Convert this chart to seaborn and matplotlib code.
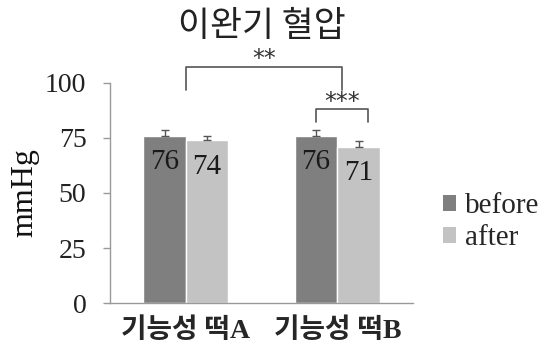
import matplotlib
matplotlib.use("Agg")
import matplotlib.pyplot as plt
import seaborn as sns
import pandas as pd
from matplotlib.patches import Patch

# Diastolic blood pressure before/after for two functional rice cakes
products = ["기능성 떡A", "기능성 떡B"]
phases = ["before", "after"]
before_vals = [76, 76]
after_vals = [74, 71]
before_err = [2.5, 2.5]
after_err = [2.0, 2.5]
yticks = [0, 25, 50, 75, 100]

colors = {"before": "#7f7f7f", "after": "#c3c3c3"}
serif = ["Liberation Serif", "DejaVu Serif"]
kor = ["Noto Sans CJK KR", "DejaVu Sans"]

df = pd.DataFrame({
    "product": products * 2,
    "phase": ["before"] * 2 + ["after"] * 2,
    "value": before_vals + after_vals,
    "err": before_err + after_err,
})

sns.set_theme(style="white")
plt.rcParams["font.family"] = serif

fig = plt.figure(figsize=(5.54, 3.53), dpi=100)
ax = fig.add_axes([0.1986, 0.1416, 0.547, 0.6234])

sns.barplot(data=df, x="product", y="value", hue="phase", order=products,
            hue_order=phases, palette=colors, width=0.56, errorbar=None,
            saturation=1, ax=ax, legend=False)

# error bars and value labels from each bar
centers = {}
for bars, ph in zip(ax.containers, phases):
    sub = df[df["phase"] == ph].set_index("product").loc[products]
    for rect, (_, row), prod in zip(bars, sub.iterrows(), products):
        cx = rect.get_x() + rect.get_width() / 2
        centers[(prod, ph)] = cx
        ax.errorbar(cx, row["value"], yerr=[[0], [row["err"]]], fmt="none",
                    ecolor="#555555", elinewidth=1, capsize=3, capthick=1)
        ax.text(cx, row["value"] - 12, f"{row['value']:g}", ha="center",
                va="center", fontsize=21, color="#1a1a1a", family=serif)

ax.set_ylim(0, 100)
ax.set_xlim(-0.5, 1.5)
ax.set_yticks(yticks)
ax.set_yticklabels([str(t) for t in yticks], fontsize=20, color="#222222")
ax.set_xticks(range(len(products)))
ax.set_xticklabels(products, fontsize=20, fontweight="bold", family=serif[:1] + kor)
ax.set_xticks([-0.5, 0.5, 1.5], minor=True)
ax.tick_params(axis="x", which="major", length=0, pad=11)
ax.tick_params(axis="x", which="minor", length=5, color="#999999", width=1, direction="out")
ax.tick_params(axis="y", length=5, color="#999999", width=1, direction="out", left=True, pad=12)
ax.set_xlabel("")
ax.set_ylabel("mmHg", fontsize=23, labelpad=4, color="#111111")

for s in ["top", "right"]:
    ax.spines[s].set_visible(False)
for s in ["left", "bottom"]:
    ax.spines[s].set_color("#999999")
    ax.spines[s].set_linewidth(1)

# significance brackets
def bracket(x0, x1, y_top, y_bot, label, ty):
    ax.plot([x0, x0, x1, x1], [y_bot, y_top, y_top, y_bot], color="#555555",
            lw=1.2, clip_on=False)
    ax.text((x0 + x1) / 2, ty, label, ha="center", va="center", fontsize=17,
            color="#333333", clip_on=False, family=["DejaVu Sans"])

bracket(0.0, 1.03, 107.3, 96.8, "**", 111.0)
bracket(centers[(products[1], "before")], centers[(products[1], "after")] + 0.06,
        88.2, 82.3, "***", 91.5)

fig.suptitle("이완기 혈압", x=0.472, y=0.975, fontsize=25, family=kor, color="#222222")

handles = [Patch(facecolor=colors[p], edgecolor="none") for p in phases]
fig.legend(handles, phases, loc="center left", bbox_to_anchor=(0.80, 0.37),
           frameon=False, fontsize=21, handlelength=0.45, handleheight=0.45,
           handletextpad=0.3, labelspacing=0.2, borderpad=0, borderaxespad=0)

fig.savefig("out.png", dpi=100)
